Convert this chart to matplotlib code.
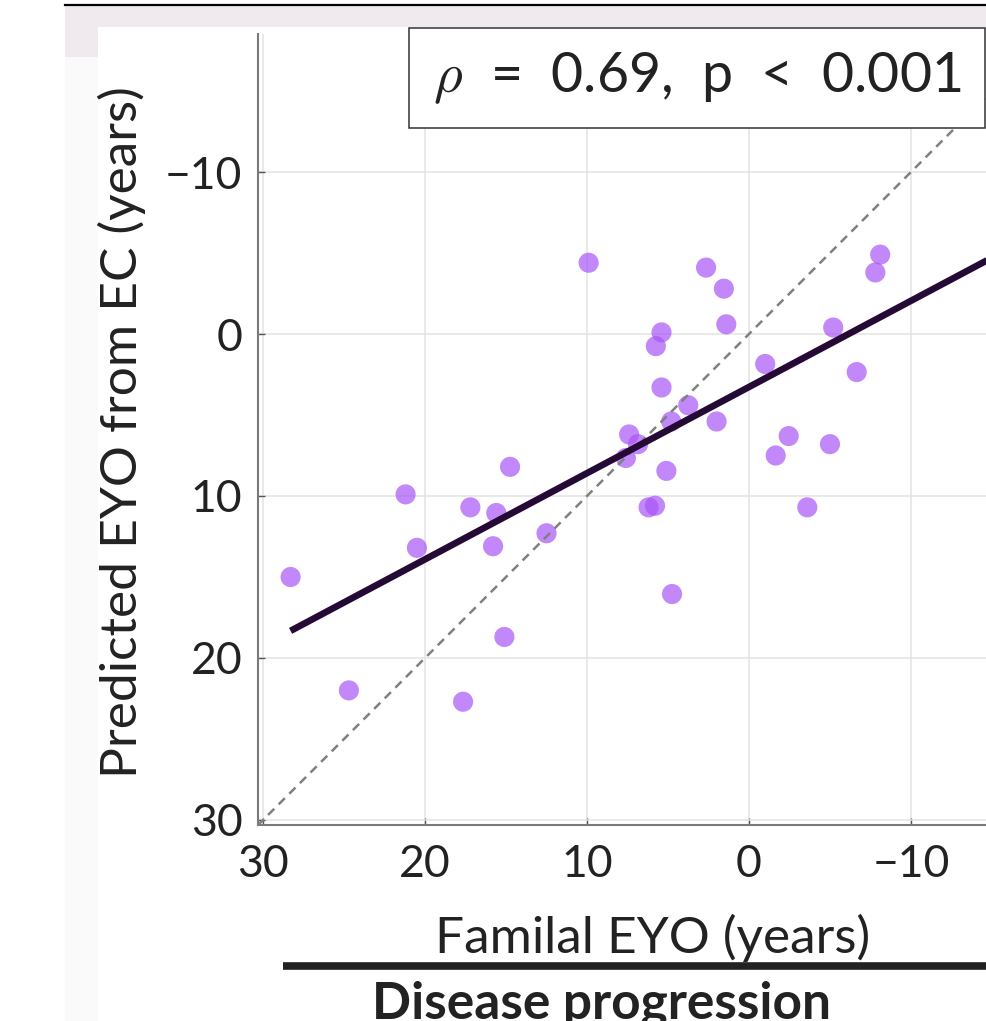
import matplotlib
matplotlib.use("Agg")
import matplotlib.pyplot as plt
from matplotlib.patches import Rectangle
from matplotlib.lines import Line2D
import numpy as np

plt.rcParams['font.family'] = ['Lato', 'DejaVu Sans']
plt.rcParams['mathtext.fontset'] = 'cm'

# values
familial_eyo = [28.3, 24.7, 21.2, 20.5, 17.65, 17.2, 15.6, 15.8, 14.75, 15.1,
                12.5, 9.9, 7.6, 7.4, 6.85, 6.2, 5.8, 5.75, 5.4, 5.4,
                5.1, 4.8, 4.75, 3.75, 2.65, 2.0, 1.55, 1.4, -1.0, -1.65,
                -2.45, -3.6, -5.0, -5.2, -6.65, -7.8, -8.1]
predicted_eyo = [15.0, 22.0, 9.9, 13.2, 22.7, 10.7, 11.05, 13.1, 8.2, 18.7,
                 12.3, -4.4, 7.65, 6.2, 6.8, 10.7, 10.6, 0.75, -0.1, 3.3,
                 8.45, 5.4, 16.05, 4.4, -4.1, 5.4, -2.8, -0.6, 1.85, 7.5,
                 6.3, 10.7, 6.8, -0.4, 2.35, -3.8, -4.9]
fit_slope = 0.532
fit_intercept = 3.27
fit_x = [28.3, -22.0]
ticks = [30, 20, 10, 0, -10]
stats_label = r'$\rho$  =  0.69,  p  <  0.001'

W, H = 986, 1021
fig = plt.figure(figsize=(W / 100, H / 100), dpi=100)


def fx(px):
    return px / W


def fy(py):
    return 1 - py / H


# page decorations around the panel
fig.patches.append(Rectangle((fx(65), fy(27)), fx(986 - 65), 21 / H,
                             transform=fig.transFigure, color='#f0e9ee', lw=0))
fig.patches.append(Rectangle((fx(65), fy(57)), fx(33), 30 / H,
                             transform=fig.transFigure, color='#f0e9ee', lw=0))
fig.patches.append(Rectangle((fx(65), 0), fx(33), fy(57),
                             transform=fig.transFigure, color='#fafafa', lw=0))
fig.lines.append(Line2D([fx(65), 1], [fy(5), fy(5)], transform=fig.transFigure,
                        color='black', lw=1.6))

ax = fig.add_axes([fx(257.7), fy(825), fx(1100 - 257.7), (825 - 34) / H])
ax.set_xlim(30.33, -21.67)
ax.set_ylim(30.31, -18.52)

ax.scatter(familial_eyo, predicted_eyo, s=210, color='#a855f7', alpha=0.7,
           edgecolors='none', zorder=2)

diag = np.array([31, -25])
ax.plot(diag, diag, color='#808080', lw=1.8, dashes=(3.5, 2.5), zorder=3)

fit_x = np.array(fit_x)
ax.plot(fit_x, fit_intercept + fit_slope * fit_x, color='#250a35', lw=4.8,
        solid_capstyle='butt', zorder=4)

ax.set_xticks(ticks)
ax.set_yticks(ticks)
ax.grid(True, color='#e3e3e3', lw=1.1)
ax.set_axisbelow(True)
ax.tick_params(direction='in', length=5, width=1, color='#555555',
               labelsize=32, labelcolor='#222222')
ax.tick_params(axis='x', pad=14)
ax.tick_params(axis='y', pad=11)
for side in ['top', 'right']:
    ax.spines[side].set_visible(False)
for side in ['left', 'bottom']:
    ax.spines[side].set_color('#7a7a7a')
    ax.spines[side].set_linewidth(1.5)

# labels placed in figure space
fig.text(fx(122), fy(432), 'Predicted EYO from EC (years)', rotation=90,
         ha='center', va='center', fontsize=37, color='#222222')
fig.text(fx(653), fy(953), 'Familal EYO (years)', ha='center', va='baseline',
         fontsize=37, color='#222222')

fig.lines.append(Line2D([fx(283), 1], [fy(965.5), fy(965.5)],
                        transform=fig.transFigure, color='#222222', lw=5.5,
                        solid_capstyle='butt'))
fig.text(fx(602), fy(1019), 'Disease progression', ha='center', va='baseline',
         fontsize=37, fontweight='bold', color='#222222')

# statistics box
fig.patches.append(Rectangle((fx(409), fy(128)), fx(985 - 409), 100 / H,
                             transform=fig.transFigure, facecolor='white',
                             edgecolor='#333333', lw=1.1, zorder=5))
fig.text(fx(697), fy(78), stats_label, ha='center', va='center', fontsize=40,
         color='#222222', zorder=6)

fig.savefig('out.png', dpi=100)
